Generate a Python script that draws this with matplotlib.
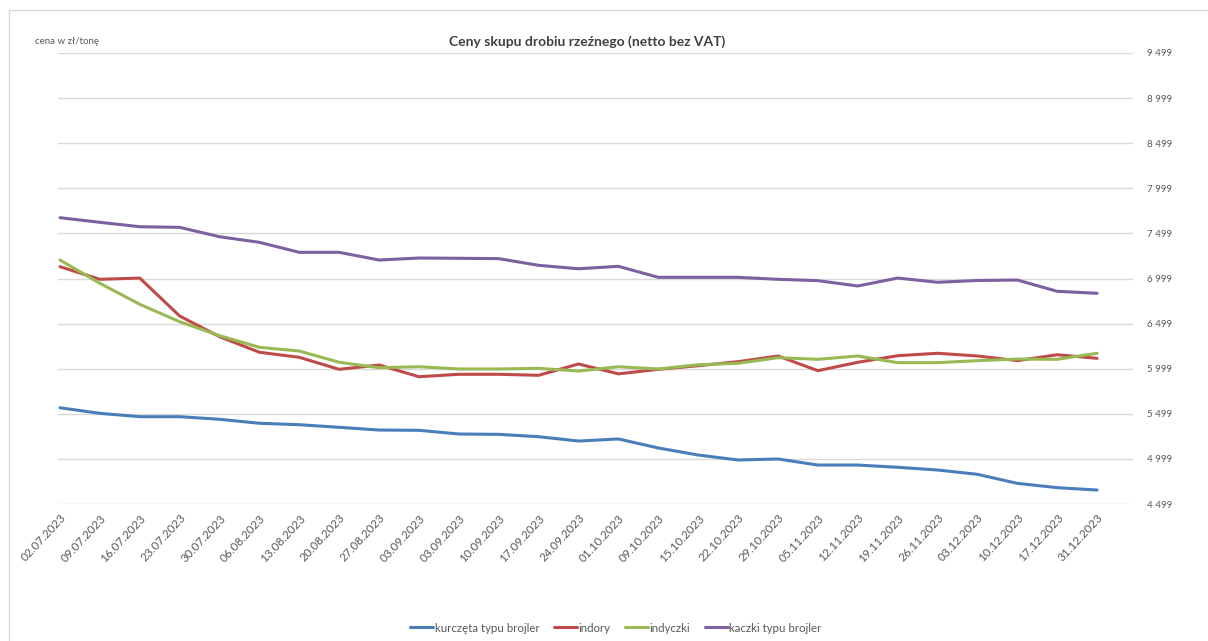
import matplotlib
matplotlib.use("Agg")
import matplotlib.pyplot as plt
from matplotlib.ticker import FuncFormatter, FixedLocator
from matplotlib.patches import Rectangle

dates = ["02.07.2023", "09.07.2023", "16.07.2023", "23.07.2023", "30.07.2023",
         "06.08.2023", "13.08.2023", "20.08.2023", "27.08.2023", "03.09.2023",
         "03.09.2023", "10.09.2023", "17.09.2023", "24.09.2023", "01.10.2023",
         "09.10.2023", "15.10.2023", "22.10.2023", "29.10.2023", "05.11.2023",
         "12.11.2023", "19.11.2023", "26.11.2023", "03.12.2023", "10.12.2023",
         "17.12.2023", "31.12.2023"]

kurczeta = [5566, 5504, 5467, 5467, 5438, 5394, 5378, 5349, 5319, 5316,
            5275, 5271, 5245, 5197, 5220, 5120, 5042, 4987, 4998, 4931,
            4931, 4906, 4876, 4828, 4728, 4680, 4654]
indory = [7130, 6990, 7004, 6583, 6354, 6181, 6125, 5992, 6040, 5910,
          5937, 5937, 5926, 6051, 5942, 5992, 6032, 6077, 6140, 5977,
          6070, 6143, 6170, 6140, 6088, 6154, 6114]
indyczki = [7204, 6946, 6713, 6520, 6365, 6236, 6195, 6070, 6010, 6021,
            5996, 5996, 6003, 5973, 6021, 5996, 6043, 6059, 6121, 6103,
            6140, 6066, 6066, 6088, 6106, 6103, 6170]
kaczki = [7673, 7622, 7573, 7566, 7462, 7400, 7289, 7289, 7204, 7226,
          7223, 7219, 7145, 7107, 7134, 7012, 7012, 7012, 6990, 6975,
          6916, 7004, 6957, 6977, 6982, 6857, 6835]

series_names = ["kurczęta typu brojler", "indory", "indyczki", "kaczki typu brojler"]
y_ticks = [4499, 4999, 5499, 5999, 6499, 6999, 7499, 7999, 8499, 8999, 9499]

plt.rcParams['font.family'] = ['Lato', 'DejaVu Sans']

W, H = 1208, 641
fig = plt.figure(figsize=(W / 100, H / 100), dpi=100)
fig.patch.set_facecolor('white')

# outer chart border
fig.patches.append(Rectangle((9 / W, -0.05), 1.2, (641 - 10) / H + 0.05,
                             transform=fig.transFigure, fill=False,
                             edgecolor='#d9d9d9', linewidth=1.0))

left, right, top, bottom = 58, 1133, 53, 504
ax = fig.add_axes([left / W, (H - bottom) / H, (right - left) / W, (bottom - top) / H])

colors = ['#4A7EBB', '#BE4B48', '#98B954', '#7D60A0']
x = list(range(len(dates)))
for vals, name, c in zip([kurczeta, indory, indyczki, kaczki], series_names, colors):
    ax.plot(x, vals, color=c, linewidth=2.2, label=name, solid_capstyle='round',
            solid_joinstyle='round')

ax.set_ylim(y_ticks[0], y_ticks[-1])
ax.set_xlim(-0.05, 26.9)
ax.yaxis.set_major_locator(FixedLocator(y_ticks))
ax.yaxis.set_major_formatter(FuncFormatter(lambda v, p: f"{v:,.0f}".replace(",", " ")))
ax.yaxis.tick_right()
ax.grid(axis='y', color='#d9d9d9', linewidth=1.0)
ax.set_axisbelow(True)
for s in ax.spines.values():
    s.set_visible(False)
ax.tick_params(axis='y', length=0, pad=10, labelsize=7, labelcolor='#595959')
ax.set_xticks(x)
ax.set_xticklabels(dates, rotation=47, ha='right', rotation_mode='anchor',
                   fontsize=8.5, color='#595959')
ax.tick_params(axis='x', length=0, pad=6)

fig.text(587 / W, 1 - 42 / H, "Ceny skupu drobiu rzeźnego (netto bez VAT)",
         ha='center', va='center', fontsize=10, fontweight='bold', color='#404040')
fig.text(35 / W, 1 - 42 / H, "cena w zł/tonę", ha='left', va='center',
         fontsize=7, color='#595959')

leg = fig.legend(loc='center', bbox_to_anchor=(616 / W, 1 - 628 / H), ncol=4,
                 frameon=False, fontsize=8.3, handlelength=2.0, handletextpad=0.1,
                 columnspacing=1.3)
for t in leg.get_texts():
    t.set_color('#595959')

fig.savefig("out.png", dpi=100, facecolor='white')
